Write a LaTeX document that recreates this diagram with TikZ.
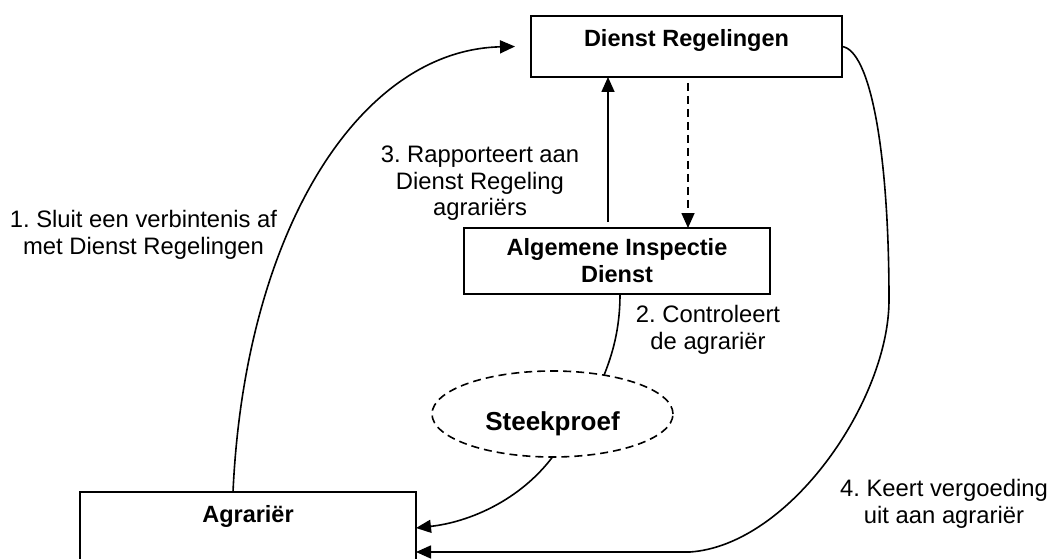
\documentclass[tikz,border=0pt]{standalone}
\usepackage{fontspec}
\setmainfont{Liberation Sans}
\usetikzlibrary{arrows.meta,calc,shapes.geometric}
\frenchspacing
\begin{document}
\begin{tikzpicture}[x=1pt,y=-1pt, line width=1.6pt,
  box/.style={draw, rectangle, inner sep=0pt, outer sep=0pt, font=\bfseries\fontsize{23.5}{27}\selectfont, align=center},
  lbl/.style={font=\frenchspacing\fontsize{23.8}{26.5}\selectfont, align=center, inner sep=0pt},
  arr/.style={-{Triangle[length=15pt,width=13pt]}},
  dsh/.style={dash pattern=on 8pt off 5pt}]
\useasboundingbox (0,0) rectangle (1050,559);
\clip (0,0) rectangle (1050,559);
\fill[white] (0,0) rectangle (1050,559);

\node[box, minimum width=311pt, minimum height=61pt, text height=20pt, text depth=20pt] (dr) at (686.5,46.5) {Dienst Regelingen};
\node[box, minimum width=306pt, minimum height=66pt] (aid) at (617,261) {Algemene Inspectie\\Dienst};
\node[draw, ellipse, dsh, minimum width=241pt, minimum height=86pt, inner sep=0pt, outer sep=0pt, text height=40pt, text depth=8pt, font=\bfseries\fontsize{26}{30}\selectfont] (sp) at (552.5,414) {Steekproef};
\node[box, anchor=north, minimum width=336pt, text height=30pt, text depth=80pt] (ag) at (248,492) {Agrariër};

\node[lbl] (l1) at (143.5,235) {1. Sluit een verbintenis af\\met Dienst Regelingen};
\node[lbl] (l3) at (480,183.3) {3. Rapporteert aan\\Dienst Regeling\\agrariërs};
\node[lbl] (l2) at (708,330) {2. Controleert\\de agrariër};
\node[lbl] (l4) at (944,504) {4. Keert vergoeding\\uit aan agrariër};

\draw[arr] ($(ag.north)+(-15,0)$) .. controls (245,230) and (360,50) .. ($(dr.west)+(-16,0)$);
\draw[arr] (dr.east) .. controls (870,50) and (889,150) .. (889,300) .. controls (889,400) and (790,545) .. (690,552) -- ($(ag.north east)+(0,60)$);
\draw[arr] (sp.south) .. controls (520,500) and (470,522) .. ($(ag.north east)+(0,36)$);
\draw ($(aid.south)+(3,0)$) .. controls (620,330) and (612,355) .. (sp.37);
\draw[arr] ($(aid.north)+(-9,-6)$) -- ($(dr.south)+(-78.5,0)$);
\draw[arr,dsh] ($(dr.south)+(1.5,6)$) -- ($(aid.north)+(71,0)$);
\end{tikzpicture}
\end{document}
